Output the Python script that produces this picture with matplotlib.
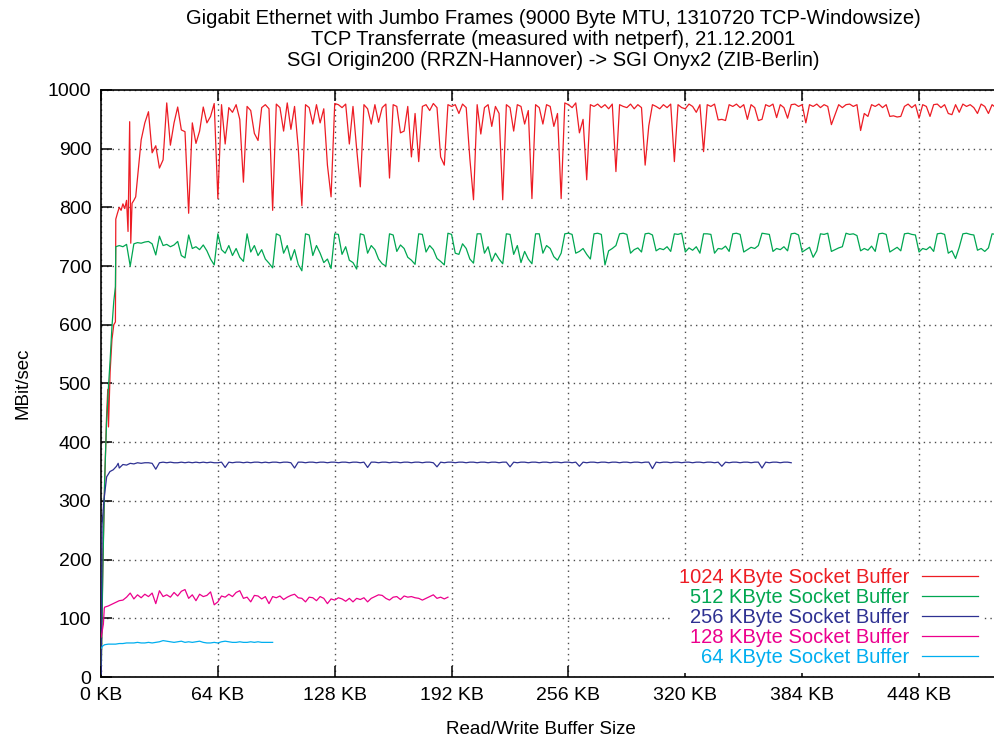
import numpy as np
import matplotlib
matplotlib.use("Agg")
import matplotlib.pyplot as plt

plt.rcParams['font.family'] = ['Liberation Sans', 'DejaVu Sans']

# ---------------- text ----------------
title_lines = [
    "Gigabit Ethernet with Jumbo Frames (9000 Byte MTU, 1310720 TCP-Windowsize)",
    "TCP Transferrate (measured with netperf), 21.12.2001",
    "SGI Origin200 (RRZN-Hannover) -> SGI Onyx2 (ZIB-Berlin)",
]
x_label = "Read/Write Buffer Size"
y_label = "MBit/sec"
x_ticks = [0, 64, 128, 192, 256, 320, 384, 448]
x_tick_labels = ["0 KB", "64 KB", "128 KB", "192 KB", "256 KB", "320 KB", "384 KB", "448 KB"]
y_ticks = [0, 100, 200, 300, 400, 500, 600, 700, 800, 900, 1000]
series_labels = ["1024 KByte Socket Buffer", "512 KByte Socket Buffer", "256 KByte Socket Buffer",
                 "128 KByte Socket Buffer", "64 KByte Socket Buffer"]
series_colors = ["#ed1c24", "#00a651", "#2e3192", "#ec008c", "#00aeef"]

# ---------------- data (KB, MBit/sec) ----------------
# 1024 KByte socket buffer
red_head_kb = [0.2, 1, 2, 3, 3.7, 4.1, 5, 6, 7, 7.9, 8.1, 9, 10, 11, 12, 13, 14, 14.8, 15.7, 16.3, 17, 18, 19, 20]
red_head = [30, 190, 330, 440, 490, 426, 520, 575, 600, 605, 780, 790, 800, 795, 806, 798, 812, 759, 946, 739,
            807, 812, 818, 850]
red_tail_start = 22  # then every 2 KB
red_tail = [915, 944, 963, 893, 905, 867, 881, 978, 906, 944, 971, 932, 929, 790, 944, 909, 930, 971, 944, 955,
            977, 815, 975, 908, 970, 962, 975, 950, 843, 972, 965, 926, 914, 970, 975, 968, 795, 976, 970, 930,
            978, 933, 972, 902, 803, 975, 970, 942, 975, 944, 968, 872, 818, 977, 975, 970, 976, 908, 972, 900,
            835, 975, 968, 942, 975, 945, 970, 976, 850, 975, 972, 927, 930, 972, 886, 960, 878, 972, 975, 965,
            977, 970, 886, 872, 975, 972, 975, 960, 976, 970, 883, 813, 975, 925, 970, 975, 938, 972, 960, 813,
            975, 970, 930, 975, 972, 942, 965, 815, 975, 970, 942, 975, 972, 938, 960, 815, 978, 975, 970, 978,
            927, 950, 847, 975, 972, 976, 970, 975, 968, 976, 861, 975, 972, 970, 976, 968, 975, 970, 872, 939,
            975, 972, 968, 975, 970, 976, 878, 975, 970, 968, 976, 972, 962, 975, 895, 975, 972, 976, 949, 950,
            948, 975, 972, 976, 970, 975, 950, 975, 970, 948, 950, 975, 972, 976, 953, 975, 970, 952, 975, 976,
            972, 975, 944, 975, 972, 976, 970, 975, 972, 941, 958, 975, 970, 975, 976, 972, 975, 931, 960, 955,
            975, 972, 976, 970, 975, 955, 956, 954, 955, 972, 976, 970, 975, 952, 975, 972, 955, 975, 976, 970,
            975, 960, 958, 975, 962, 976, 972, 975, 970, 960, 976, 972, 960, 975, 970]

# 512 KByte socket buffer
green_head_kb = [0.2, 1, 2, 3, 4, 5, 6, 7, 7.9, 8.1]
green_head = [20, 180, 336, 430, 490, 540, 597, 640, 665, 733]
green_tail_start = 10
green_tail = [735, 733, 737, 700, 738, 740, 739, 741, 742, 738, 719, 751, 735, 737, 733, 736, 742, 718, 714, 753,
              730, 733, 728, 736, 726, 712, 702, 755, 728, 722, 735, 718, 730, 715, 708, 755, 724, 735, 718, 728,
              712, 705, 697, 755, 752, 722, 735, 710, 728, 703, 692, 755, 753, 718, 735, 722, 706, 712, 696, 755,
              754, 720, 733, 710, 706, 695, 755, 753, 722, 735, 728, 712, 704, 700, 755, 753, 725, 736, 730, 715,
              710, 703, 755, 754, 724, 735, 728, 713, 708, 702, 756, 754, 722, 720, 738, 730, 712, 705, 755, 755,
              722, 733, 708, 722, 712, 704, 755, 754, 720, 735, 706, 725, 712, 704, 755, 755, 722, 735, 730, 716,
              710, 722, 755, 756, 754, 722, 725, 730, 720, 712, 755, 756, 754, 702, 726, 730, 735, 755, 756, 754,
              722, 728, 731, 724, 755, 756, 753, 726, 730, 728, 733, 725, 755, 754, 756, 724, 731, 727, 733, 722,
              755, 755, 754, 722, 730, 729, 734, 725, 755, 756, 754, 724, 728, 732, 730, 735, 756, 755, 754, 725,
              730, 728, 733, 726, 755, 756, 753, 724, 728, 732, 715, 726, 755, 754, 756, 725, 728, 731, 733, 756,
              754, 755, 752, 726, 730, 727, 734, 725, 755, 756, 754, 724, 728, 732, 726, 755, 756, 754, 753, 724,
              730, 728, 733, 725, 755, 756, 754, 722, 726, 713, 732, 755, 756, 754, 753, 727, 730, 725, 731, 755,
              754]

# 256 KByte socket buffer
blue_head_kb = [0.1, 0.6, 1.6, 3.1, 4.9, 6.7, 8.5, 9.4]
blue_head = [5, 260, 301, 341, 350, 353, 359, 364]
blue_tail_start = 10
blue_tail = [356, 362, 361, 364, 363, 365, 364, 365, 365, 364, 354, 365, 366, 365, 366, 365, 365, 366, 365, 366,
             365, 366, 365, 366, 365, 366, 365, 365, 366, 357, 366, 365, 366, 366, 365, 366, 365, 366, 366, 365,
             366, 365, 366, 366, 365, 366, 366, 365, 356, 366, 366, 365, 366, 366, 365, 366, 366, 365, 366, 366,
             365, 366, 366, 365, 366, 366, 365, 366, 357, 366, 366, 365, 366, 366, 365, 366, 366, 365, 366, 366,
             365, 366, 366, 365, 366, 366, 365, 358, 366, 365, 366, 366, 365, 366, 366, 365, 366, 366, 365, 366,
             366, 365, 366, 366, 365, 366, 366, 358, 366, 365, 366, 366, 365, 366, 366, 365, 366, 366, 365, 366,
             366, 365, 366, 366, 365, 366, 359, 366, 365, 366, 366, 365, 366, 366, 365, 366, 366, 365, 366, 366,
             365, 366, 366, 365, 366, 366, 355, 366, 365, 366, 366, 365, 366, 366, 365, 366, 366, 365, 366, 366,
             365, 366, 366, 365, 366, 359, 366, 365, 366, 366, 365, 366, 366, 365, 366, 366, 356, 366, 365, 366,
             366, 365, 366, 366, 365]

# 128 KByte socket buffer
pink_head_kb = [0.1, 1.3, 1.8]
pink_head = [68, 90, 117]
pink_tail_start = 2
pink_tail = [119, 121, 124, 127, 130, 131, 136, 143, 133, 140, 135, 141, 137, 143, 125, 147, 137, 140, 136, 144,
             138, 146, 149, 134, 140, 130, 141, 137, 139, 145, 123, 128, 138, 136, 141, 137, 144, 147, 134, 136,
             128, 139, 138, 133, 137, 125, 137, 135, 138, 132, 136, 139, 141, 135, 134, 128, 136, 135, 130, 137,
             134, 125, 133, 131, 135, 133, 129, 134, 128, 134, 132, 135, 128, 134, 137, 140, 139, 134, 131, 136,
             137, 132, 138, 136, 137, 135, 134, 131, 134, 137, 140, 134, 136, 133, 136]

# 64 KByte socket buffer
cyan_head_kb = [0.1, 1]
cyan_head = [49, 53]
cyan_tail_start = 2
cyan_tail = [55, 56, 56, 56, 57, 57, 58, 58, 58, 59, 58, 58, 59, 58, 59, 60, 62, 61, 60, 59,
             60, 61, 59, 60, 59, 60, 61, 59, 58, 58, 59, 58, 60, 61, 60, 59, 59, 60, 59, 59,
             60, 59, 60, 59, 59, 59, 59]


def series(head_kb, head, start, tail):
    kb = list(head_kb) + list(np.arange(start, start + 2 * len(tail), 2))
    return np.array(kb, dtype=float), np.array(list(head) + list(tail), dtype=float)


all_series = [
    series(red_head_kb, red_head, red_tail_start, red_tail),
    series(green_head_kb, green_head, green_tail_start, green_tail),
    series(blue_head_kb, blue_head, blue_tail_start, blue_tail),
    series(pink_head_kb, pink_head, pink_tail_start, pink_tail),
    series(cyan_head_kb, cyan_head, cyan_tail_start, cyan_tail),
]

# ---------------- figure ----------------
W, H = 995, 738
fig = plt.figure(figsize=(W / 100, H / 100), dpi=100)
ax_left, ax_right, ax_top, ax_bottom = 101, 995, 90, 677
ax = fig.add_axes([ax_left / W, (H - ax_bottom) / H, (ax_right - ax_left) / W, (ax_bottom - ax_top) / H])

for (kb, v), lab, col in zip(all_series, series_labels, series_colors):
    ax.plot(kb, v, color=col, lw=0.9, label=lab, zorder=3)

ax.set_xlim(0, (ax_right - ax_left) / 1.826)
ax.set_ylim(0, 1000)
ax.set_xticks(x_ticks)
ax.set_xticklabels(x_tick_labels)
ax.set_yticks(y_ticks)
ax.tick_params(axis='both', direction='in', length=8, width=1.1, labelsize=14, top=True, right=False, colors='black')
ax.tick_params(axis='x', pad=7)
ax.tick_params(axis='y', pad=7)
ax.grid(True, linestyle=(0, (1, 3)), color='0.3', linewidth=1.0)
ax.set_axisbelow(True)
for s in ['left', 'bottom', 'top']:
    ax.spines[s].set_linewidth(1.2)
ax.spines['right'].set_visible(False)

ax.set_xlabel(x_label, fontsize=13.5)
ax.xaxis.set_label_coords((541 - ax_left) / (ax_right - ax_left), -0.075)
ax.set_ylabel(y_label, fontsize=13.5)
ax.yaxis.set_label_coords(-0.078, 0.5)

for i, line in enumerate(title_lines):
    fig.text(553 / W, 1 - (18 + 21.5 * i) / H, line, ha='center', va='center', fontsize=14.5)

leg = ax.legend(loc='lower right', bbox_to_anchor=((984 - ax_left) / (ax_right - ax_left), 0.007),
                borderaxespad=0, markerfirst=False, labelcolor='linecolor', frameon=True,
                facecolor='white', edgecolor='none', framealpha=1, fancybox=False,
                handlelength=2.8, handletextpad=0.6, labelspacing=0.05, borderpad=0.3,
                fontsize=14.5)
leg.set_zorder(5)

fig.savefig("out.png", dpi=100)
